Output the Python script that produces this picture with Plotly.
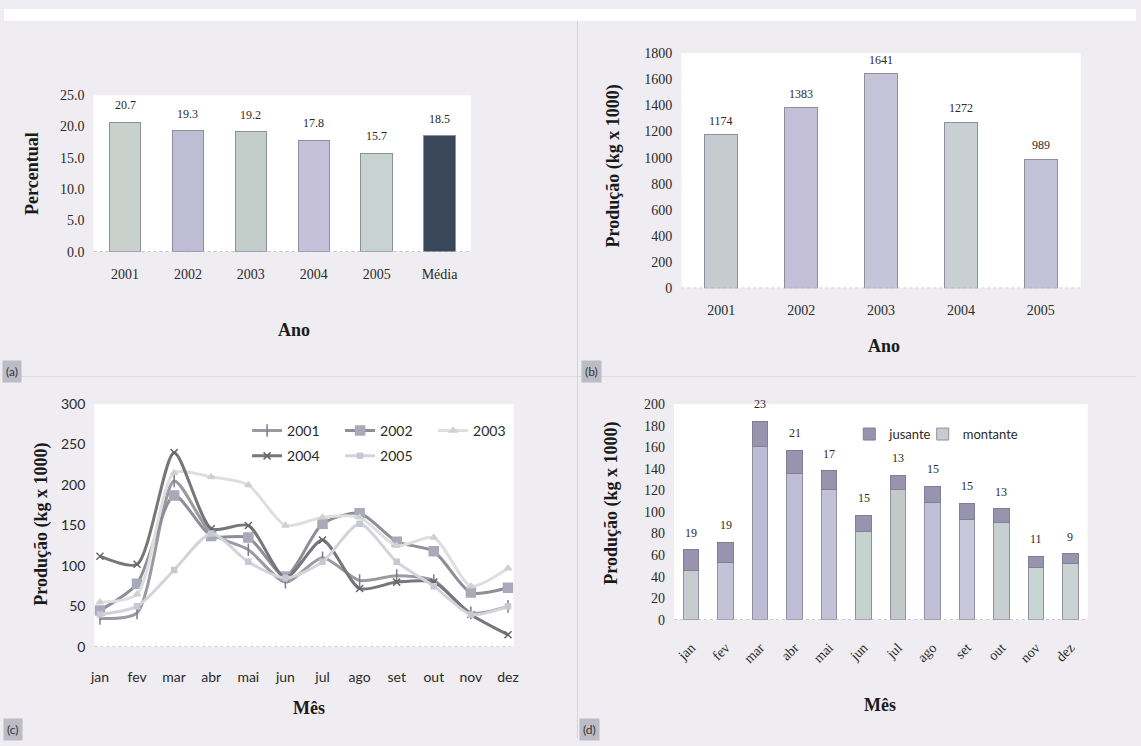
import plotly.graph_objects as go

W, H = 1141, 746

# ---------------- data ----------------
# (a) percentual por ano
anos_a = ['2001', '2002', '2003', '2004', '2005', 'Média']
percentual = [20.7, 19.3, 19.2, 17.8, 15.7, 18.5]

# (b) produção anual (kg x 1000)
anos_b = ['2001', '2002', '2003', '2004', '2005']
producao_anual = [1174, 1383, 1641, 1272, 989]

# (c) produção mensal por ano (kg x 1000)
meses = ['jan', 'fev', 'mar', 'abr', 'mai', 'jun', 'jul', 'ago', 'set', 'out', 'nov', 'dez']
prod_2001 = [35, 42, 205, 140, 120, 80, 110, 82, 88, 82, 42, 50]
prod_2002 = [45, 78, 187, 137, 135, 87, 152, 165, 130, 118, 67, 73]
prod_2003 = [55, 65, 215, 210, 200, 150, 160, 160, 125, 135, 75, 97]
prod_2004 = [112, 102, 240, 146, 150, 85, 132, 72, 80, 80, 40, 15]
prod_2005 = [40, 50, 95, 140, 105, 85, 105, 152, 105, 75, 40, 50]

# (d) produção média mensal: montante + jusante (kg x 1000)
montante = [46, 53, 161, 136, 121, 82, 121, 109, 93, 90, 48, 52]
jusante = [19, 19, 23, 21, 17, 15, 13, 15, 15, 13, 11, 9]

# ---------------- helpers ----------------
def px(x):
    return x / W

def py(y):
    return 1 - y / H

SERIF = 'Liberation Serif'
SANS = 'Lato'
TXT = '#2a2a2a'

fig = go.Figure()

# ---------------- (a) ----------------
colors_a = ['#c9d1cd', '#bfbdd6', '#c3cdc9', '#c5c1da', '#c8d3d1', '#38485a']
fig.add_trace(go.Bar(x=anos_a, y=percentual, width=0.5,
                     marker=dict(color=colors_a, line=dict(color='#8e8e9c', width=1)),
                     showlegend=False, xaxis='x', yaxis='y', hoverinfo='skip'))

# ---------------- (b) ----------------
colors_b = ['#c6cbd0', '#c3bfd9', '#c6c4d8', '#c8d0d3', '#c4c2d8']
fig.add_trace(go.Bar(x=anos_b, y=producao_anual, width=0.41,
                     marker=dict(color=colors_b, line=dict(color='#8e8e9c', width=1)),
                     showlegend=False, xaxis='x2', yaxis='y2', hoverinfo='skip'))

# ---------------- (c) ----------------
series_c = [
    ('2001', prod_2001, '#9a9aa0', 'line-ns-open', 9, '#7c7c84', 'legend'),
    ('2002', prod_2002, '#8e8e9a', 'square', 9, '#a9a9b9', 'legend'),
    ('2003', prod_2003, '#dedede', 'triangle-up', 6, '#d0d0d0', 'legend'),
    ('2004', prod_2004, '#76767b', 'x-thin-open', 7, '#66666a', 'legend2'),
    ('2005', prod_2005, '#d3d3db', 'square', 5, '#c8c8d2', 'legend2'),
]
for name, vals, lc, sym, ms, mc, leg in series_c:
    fig.add_trace(go.Scatter(x=meses, y=vals, name=name, mode='lines+markers',
                             line=dict(color=lc, width=3, shape='spline', smoothing=0.7),
                             marker=dict(symbol=sym, size=ms, color=mc,
                                         line=dict(color=mc, width=1.5)),
                             legend=leg, xaxis='x3', yaxis='y3', hoverinfo='skip'))

# ---------------- (d) ----------------
colors_mont = ['#c6ccd0', '#c3c2d6', '#bebbd4', '#c0bed6', '#c3c1d6', '#c5d3cf',
               '#c2c9c8', '#c1bfd6', '#c9c7dc', '#c8cfd3', '#c8d6d3', '#c9d3d1']
fig.add_trace(go.Bar(x=meses, y=montante, name='montante', width=0.45,
                     marker=dict(color=colors_mont, line=dict(color='#9090a0', width=1)),
                     legend='legend4', xaxis='x4', yaxis='y4', hoverinfo='skip'))
fig.add_trace(go.Bar(x=meses, y=jusante, name='jusante', width=0.45,
                     marker=dict(color='#9894b0', line=dict(color='#808093', width=1)),
                     legend='legend3', xaxis='x4', yaxis='y4', hoverinfo='skip'))

# ---------------- axes ----------------
def xax(domain, rng, font_family, size=14, **kw):
    d = dict(domain=domain, range=rng, type='category', showgrid=False, zeroline=False,
             showline=False, ticks='', tickfont=dict(family=font_family, size=size, color=TXT),
             fixedrange=True)
    d.update(kw)
    return d

def yax(domain, rng, dtick, font_family, size=14, **kw):
    d = dict(domain=domain, range=rng, dtick=dtick, tick0=0, showgrid=False, zeroline=False,
             showline=False, ticks='', tickfont=dict(family=font_family, size=size, color=TXT),
             fixedrange=True, ticklabelstandoff=8)
    d.update(kw)
    return d

def legend(x, y, size=14, **kw):
    d = dict(orientation='h', x=px(x), y=py(y), xanchor='left', yanchor='middle',
             itemwidth=30, traceorder='normal', bgcolor='rgba(0,0,0,0)',
             font=dict(family=SANS, size=size, color=TXT))
    d.update(kw)
    return d

layout = dict(
    width=W, height=H,
    margin=dict(l=0, r=0, t=0, b=0),
    paper_bgcolor='#efedf1', plot_bgcolor='#ffffff',
    barmode='stack',
    xaxis=xax([px(90.3), px(470.7)], [-0.5, 5.5], SERIF, anchor='y', ticklabelstandoff=12),
    yaxis=yax([py(248.3), py(88.3)], [0, 25], 5, SERIF, anchor='x', tickformat='.1f'),
    xaxis2=xax([px(682.7), px(1085.3)], [-0.5, 4.5], SERIF, anchor='y2', ticklabelstandoff=12),
    yaxis2=yax([py(285.7), py(45.2)], [0, 1800], 200, SERIF, anchor='x2'),
    xaxis3=xax([px(91.1), px(513.6)], [-0.15, 11.15], SANS, anchor='y3', ticklabelstandoff=20),
    yaxis3=yax([py(652.7), py(404.3)], [0, 300], 50, SANS, anchor='x3'),
    xaxis4=xax([px(675.3), px(1092.3)], [-0.5, 11.5], SERIF, anchor='y4', tickangle=-45,
               ticklabelstandoff=16),
    yaxis4=yax([py(625), py(404.3)], [0, 200], 20, SERIF, anchor='x4'),
    legend=legend(245, 431.7, entrywidth=48),
    legend2=legend(245, 457.7, entrywidth=48),
    legend3=legend(852, 435, size=13),
    legend4=legend(926, 435, size=13),
)
fig.update_layout(**layout)

shapes = []
# white strip on top, panel seams
shapes.append(dict(type='rect', xref='paper', yref='paper', x0=0, x1=1, y0=py(12), y1=1,
                   fillcolor='#ffffff', line=dict(width=0), layer='below'))
shapes.append(dict(type='line', xref='paper', yref='paper', x0=px(578), x1=px(578), y0=0, y1=py(12),
                   line=dict(color='#d6d3da', width=1)))
shapes.append(dict(type='line', xref='paper', yref='paper', x0=0, x1=1, y0=py(376), y1=py(376),
                   line=dict(color='#dcd9e0', width=1)))
# dotted baselines at zero
for xa, ya in [('x', 'y'), ('x2', 'y2'), ('x3', 'y3'), ('x4', 'y4')]:
    shapes.append(dict(type='line', xref=xa + ' domain', yref=ya, x0=0, x1=1, y0=0, y1=0,
                       line=dict(color='#a8a8b0', width=1, dash='dot')))
fig.update_layout(shapes=shapes)

ann = []
# bar value labels (x given as category index)
for i, v in enumerate(percentual):
    ann.append(dict(x=i, y=v, xref='x', yref='y', text=f'{v:.1f}', showarrow=False, yshift=17,
                    font=dict(family=SERIF, size=12, color=TXT)))
for i, v in enumerate(producao_anual):
    ann.append(dict(x=i, y=v, xref='x2', yref='y2', text=str(v), showarrow=False, yshift=14,
                    font=dict(family=SERIF, size=12, color=TXT)))
for i, (m, j) in enumerate(zip(montante, jusante)):
    ann.append(dict(x=i, y=m + j, xref='x4', yref='y4', text=str(j), showarrow=False, yshift=17,
                    font=dict(family=SERIF, size=12, color=TXT)))

# axis titles
def title(text, x, y, angle=0):
    return dict(x=px(x), y=py(y), xref='paper', yref='paper', text=f'<b>{text}</b>',
                showarrow=False, textangle=angle, xanchor='center', yanchor='middle',
                font=dict(family=SERIF, size=18, color='#1a1a1a'))

ann += [
    title('Ano', 292, 328), title('Percentual', 28, 168, -90),
    title('Ano', 887, 345), title('Produção (kg x 1000)', 614, 161, -90),
    title('Mês', 307, 715), title('Produção (kg x 1000)', 38, 527, -90),
    title('Mês', 883, 712), title('Produção (kg x 1000)', 612, 506, -90),
]

# panel tags
for t, x, y in [('(a)', 8, 371), ('(b)', 592, 371), ('(c)', 9, 737), ('(d)', 590, 737)]:
    ann.append(dict(x=px(x), y=py(y), xref='paper', yref='paper', text=t, showarrow=False,
                    xanchor='center', yanchor='middle', bgcolor='#bcbcc6', borderpad=3,
                    font=dict(family=SANS, size=12, color='#333333')))

fig.update_layout(annotations=ann)

fig.write_html('out.html')
